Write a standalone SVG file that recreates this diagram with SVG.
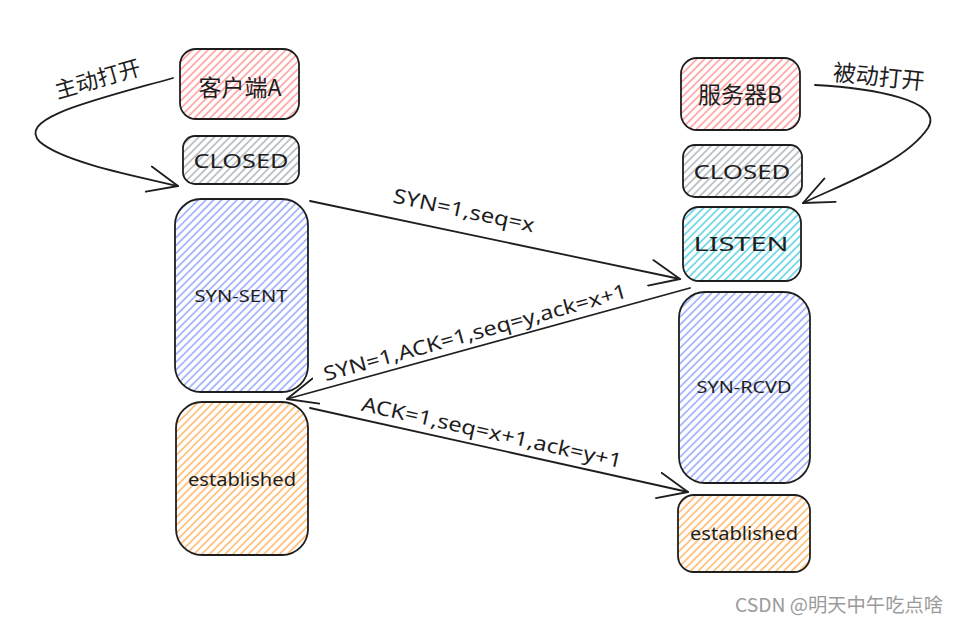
<svg xmlns="http://www.w3.org/2000/svg" width="961" height="622" viewBox="0 0 961 622">
<style>
.box{stroke:#1e1e1e;stroke-width:1.8}
.t{font-family:"Noto Sans","Noto Sans CJK SC",sans-serif;fill:#1e1e1e;text-anchor:middle;dominant-baseline:central}
.cn{font-family:"Noto Sans CJK SC","Noto Sans",sans-serif;fill:#1e1e1e;text-anchor:middle;dominant-baseline:central}
.ln{fill:none;stroke:#1e1e1e;stroke-width:1.8;stroke-linecap:round}
</style>
<defs>
<pattern id="hR" width="5.5" height="5.5" patternUnits="userSpaceOnUse" patternTransform="rotate(45)"><line x1="1" y1="0" x2="1" y2="5.5" stroke="#ff8787" stroke-width="1.3"/></pattern>
<pattern id="hG" width="5.5" height="5.5" patternUnits="userSpaceOnUse" patternTransform="rotate(45)"><line x1="1" y1="0" x2="1" y2="5.5" stroke="#a0a8b0" stroke-width="1.3"/></pattern>
<pattern id="hB" width="5.5" height="5.5" patternUnits="userSpaceOnUse" patternTransform="rotate(45)"><line x1="1" y1="0" x2="1" y2="5.5" stroke="#8299fb" stroke-width="1.3"/></pattern>
<pattern id="hT" width="5.5" height="5.5" patternUnits="userSpaceOnUse" patternTransform="rotate(45)"><line x1="1" y1="0" x2="1" y2="5.5" stroke="#3bc9db" stroke-width="1.3"/></pattern>
<pattern id="hO" width="5.5" height="5.5" patternUnits="userSpaceOnUse" patternTransform="rotate(45)"><line x1="1" y1="0" x2="1" y2="5.5" stroke="#ffa94d" stroke-width="1.3"/></pattern>
<marker id="ah" viewBox="0 0 32 28" refX="31" refY="14" markerWidth="32" markerHeight="28" markerUnits="userSpaceOnUse" orient="auto"><path d="M1,1 L31,14 L1,27" fill="none" stroke="#1e1e1e" stroke-width="1.8" stroke-linecap="round" stroke-linejoin="round"/></marker>
</defs>
<rect width="961" height="622" fill="#ffffff"/>

<g id="clientA"><rect class="box" x="180" y="49" width="119" height="70" rx="16" fill="url(#hR)"/><text class="cn" x="240" y="86" font-size="23">客户端A</text></g>
<g id="closedA"><rect class="box" x="183" y="136" width="116" height="48" rx="12" fill="url(#hG)"/><text class="t" x="241" y="160" font-size="20" textLength="95" lengthAdjust="spacingAndGlyphs">CLOSED</text></g>
<g id="synSent"><rect class="box" x="175" y="199" width="133" height="193" rx="26" fill="url(#hB)"/><text class="t" x="241" y="296" font-size="16" textLength="93" lengthAdjust="spacingAndGlyphs">SYN-SENT</text></g>
<g id="estA"><rect class="box" x="176" y="402" width="132" height="153" rx="26" fill="url(#hO)"/><text class="t" x="242" y="479" font-size="18" textLength="108" lengthAdjust="spacingAndGlyphs">established</text></g>

<g id="serverB"><rect class="box" x="681" y="58" width="119" height="72" rx="16" fill="url(#hR)"/><text class="cn" x="740" y="93" font-size="23">服务器B</text></g>
<g id="closedB"><rect class="box" x="683" y="145" width="119" height="52" rx="12" fill="url(#hG)"/><text class="t" x="742" y="171" font-size="20" textLength="97" lengthAdjust="spacingAndGlyphs">CLOSED</text></g>
<g id="listen"><rect class="box" x="683" y="207" width="118" height="74" rx="16" fill="url(#hT)"/><text class="t" x="741" y="243" font-size="20" textLength="95" lengthAdjust="spacingAndGlyphs">LISTEN</text></g>
<g id="synRcvd"><rect class="box" x="679" y="292" width="131" height="191" rx="26" fill="url(#hB)"/><text class="t" x="744" y="387" font-size="16" textLength="95" lengthAdjust="spacingAndGlyphs">SYN-RCVD</text></g>
<g id="estB"><rect class="box" x="678" y="495" width="132" height="77" rx="16" fill="url(#hO)"/><text class="t" x="744" y="533" font-size="18" textLength="108" lengthAdjust="spacingAndGlyphs">established</text></g>

<g id="connectors">
<path class="ln" d="M173,78 C95,100 15,118 40,142 C65,163 140,177 178,186" marker-end="url(#ah)"/>
<path class="ln" d="M815,85 C870,88 945,100 928,128 C905,162 845,183 803,203" marker-end="url(#ah)"/>
<path class="ln" d="M310,201 L680,279" marker-end="url(#ah)"/>
<path class="ln" d="M690,288 L287,399" marker-end="url(#ah)"/>
<path class="ln" d="M310,408 L688,492" marker-end="url(#ah)"/>
</g>

<g id="labels">
<text class="cn" font-size="22" transform="translate(97,77) rotate(-16)">主动打开</text>
<text class="cn" font-size="23" transform="translate(879,75) rotate(6)">被动打开</text>
<text class="t" font-size="20" textLength="144" lengthAdjust="spacingAndGlyphs" transform="translate(464,210) rotate(12)">SYN=1,seq=x</text>
<text class="t" font-size="20" textLength="314" lengthAdjust="spacingAndGlyphs" transform="translate(475,332) rotate(-15.5)">SYN=1,ACK=1,seq=y,ack=x+1</text>
<text class="t" font-size="20" textLength="266" lengthAdjust="spacingAndGlyphs" transform="translate(492,432) rotate(12.5)">ACK=1,seq=x+1,ack=y+1</text>
</g>
<text x="735" y="603" font-family="'Noto Sans CJK SC','Noto Sans',sans-serif" font-size="19" fill="#9a9a9a" dominant-baseline="central" textLength="208" lengthAdjust="spacingAndGlyphs">CSDN @明天中午吃点啥</text>
</svg>
